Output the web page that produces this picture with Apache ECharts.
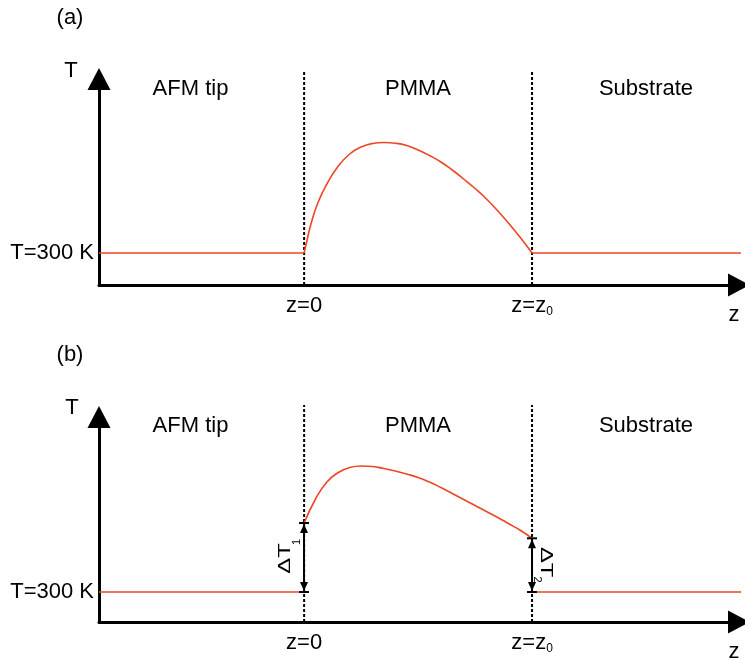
<!DOCTYPE html>
<html>
<head>
<meta charset="utf-8">
<script src="https://cdn.jsdelivr.net/npm/echarts@6/dist/echarts.min.js"></script>
<style>html,body{margin:0;padding:0;background:#fff}#c{width:745px;height:660px}</style>
</head>
<body>
<div id="c"></div>
<script>
// ---- data (z in units of z0, T in K) ----
var zA = [0, 0.01, 0.03, 0.06, 0.1, 0.15, 0.2, 0.25, 0.3, 0.35, 0.4, 0.45, 0.5, 0.55, 0.6, 0.65, 0.7, 0.75, 0.8, 0.85, 0.9, 0.95, 1.0];
var TA = [300, 310, 329, 350, 369, 387, 399, 406, 409.5, 410.5, 409.8, 407.5, 403, 397.5, 391, 383, 374, 364.5, 354, 342, 329, 315, 300];
var zB = [0, 0.05, 0.1, 0.15, 0.2, 0.25, 0.3, 0.35, 0.4, 0.45, 0.5, 0.55, 0.6, 0.65, 0.7, 0.75, 0.8, 0.85, 0.9, 0.95, 1.0];
var TB = [369, 393, 410, 419.5, 424.5, 426, 425.5, 423.5, 421, 418, 414.5, 410, 404.5, 398.5, 392.5, 386.5, 380.5, 374.5, 368, 361.5, 353.7];
var T0 = 300;
var zLeft = -0.9, zRight = 1.934;
var interfaces = [0, 1];
var regionLabels = ['AFM tip', 'PMMA', 'Substrate'];
var jumps = [[0, 300, 369, 1], [1, 300, 353.7, 2]];

var RED = '#ef4526';
var FONT = '"Liberation Sans", Arial, sans-serif';

function pairs(xs, ys) { return xs.map(function (x, i) { return [x, ys[i]]; }); }

var chart = echarts.init(document.getElementById('c'));

function xAxisCfg(gi) {
  return {
    type: 'value', gridIndex: gi, min: -0.9, max: 1.908,
    axisLine: { show: true, onZero: false, lineStyle: { color: '#000', width: 3 }, symbol: ['none', 'triangle'], symbolSize: [23, 22] },
    axisTick: { show: false }, splitLine: { show: false },
    axisLabel: {
      show: true, customValues: interfaces, margin: 9, color: '#000',
      fontFamily: FONT, fontSize: 22,
      formatter: function (v) { return v === 0 ? '{m|z=0}' : '{m|z=z}{s|0}'; },
      rich: {
        m: { fontSize: 22, fontFamily: FONT, color: '#000', lineHeight: 24 },
        s: { fontSize: 12, fontFamily: FONT, color: '#000', verticalAlign: 'bottom', lineHeight: 24 }
      }
    }
  };
}
function yAxisCfg(gi, mn, mx) {
  return {
    type: 'value', gridIndex: gi, min: mn, max: mx,
    axisLine: { show: true, onZero: false, lineStyle: { color: '#000', width: 3 }, symbol: ['none', 'triangle'], symbolSize: [23, 22] },
    axisTick: { show: false }, splitLine: { show: false },
    axisLabel: { show: true, customValues: [T0], margin: 5, color: '#000', fontFamily: FONT, fontSize: 22,
      formatter: function () { return 'T=300 K'; } }
  };
}

function lineSeries(gi, data, extra) {
  var s = {
    type: 'line', xAxisIndex: gi, yAxisIndex: gi, data: data, showSymbol: false, symbol: 'none',
    lineStyle: { color: RED, width: 1.6 }, clip: false, silent: true, animation: false, z: 3
  };
  for (var k in extra) s[k] = extra[k];
  return s;
}
function dashSeries(gi, z, lo, hi) {
  return {
    type: 'line', xAxisIndex: gi, yAxisIndex: gi, data: [[z, lo], [z, hi]], showSymbol: false, symbol: 'none',
    lineStyle: { color: '#000', width: 2, type: [3, 2] }, clip: false, silent: true, animation: false, z: 2
  };
}

var series = [
  lineSeries(0, [[zLeft, T0], [0, T0]]),
  lineSeries(0, [[1, T0], [zRight, T0]]),
  lineSeries(0, pairs(zA, TA), { smooth: 0.5 }),
  dashSeries(0, interfaces[0], 268, 483),
  dashSeries(0, interfaces[1], 268, 483),
  lineSeries(1, [[zLeft, T0], [0, T0]]),
  lineSeries(1, [[1, T0], [zRight, T0]]),
  lineSeries(1, pairs(zB, TB), { smooth: 0.5 }),
  dashSeries(1, interfaces[0], 270, 487),
  dashSeries(1, interfaces[1], 270, 487),
  {
    type: 'custom', xAxisIndex: 1, yAxisIndex: 1, data: jumps, clip: false, silent: true, animation: false, z: 5,
    renderItem: function (params, api) {
      var z = api.value(0), lo = api.value(1), hi = api.value(2), idx = api.value(3);
      var pLo = api.coord([z, lo]), pHi = api.coord([z, hi]);
      var x = Math.round(pLo[0]), yT = pHi[1], yB = pLo[1];
      var midY = (yT + yB) / 2;
      var k = { stroke: '#000', lineWidth: 2 };
      var ch = [
        { type: 'line', shape: { x1: x, y1: yT + 6, x2: x, y2: yB - 6 }, style: k },
        { type: 'polygon', shape: { points: [[x, yT + 1], [x - 4, yT + 10], [x + 4, yT + 10]] }, style: { fill: '#000' } },
        { type: 'polygon', shape: { points: [[x, yB - 1], [x - 4, yB - 10], [x + 4, yB - 10]] }, style: { fill: '#000' } },
        { type: 'line', shape: { x1: x - 5, y1: yT, x2: x + 5, y2: yT }, style: k },
        { type: 'line', shape: { x1: x - 5, y1: yB, x2: x + 5, y2: yB }, style: k }
      ];
      var left = idx === 1;
      var rot = left ? Math.PI / 2 : -Math.PI / 2;
      ch.push({
        type: 'text', x: left ? x - 18.5 : x + 13.5, y: left ? midY + 1 : midY - 3, rotation: rot, scaleX: 1.4, scaleY: 1,
        style: { text: '\u0394T', fontSize: 17, fontFamily: FONT, fill: '#000', align: 'center', verticalAlign: 'middle' }
      });
      ch.push({
        type: 'text', x: left ? x - 7 : x + 5.5, y: left ? midY - 15.5 : midY + 14.5, rotation: rot,
        style: { text: String(idx), fontSize: 11, fontFamily: FONT, fill: '#000', align: 'center', verticalAlign: 'middle' }
      });
      return { type: 'group', children: ch };
    }
  }
];

function txt(x, y, s) {
  return { type: 'text', x: x, y: y, silent: true,
    style: { text: s, fontSize: 22, fontFamily: FONT, fill: '#000', align: 'center', verticalAlign: 'middle' } };
}
var graphic = [
  txt(70, 18, '(a)'), txt(70, 355, '(b)'),
  txt(71, 71, 'T'), txt(72, 408, 'T'),
  txt(734, 315, 'z'), txt(734, 652, 'z'),
  txt(190.5, 89, regionLabels[0]), txt(418, 89, regionLabels[1]), txt(646, 89, regionLabels[2]),
  txt(190.5, 426, regionLabels[0]), txt(418, 426, regionLabels[1]), txt(646, 426, regionLabels[2])
];

chart.setOption({
  animation: false,
  backgroundColor: '#fff',
  grid: [
    { left: 99, right: 6, top: 79, height: 206 },
    { left: 99, right: 6, top: 417, height: 205 }
  ],
  xAxis: [xAxisCfg(0), xAxisCfg(1)],
  yAxis: [yAxisCfg(0, 268, 474), yAxisCfg(1, 270, 475)],
  series: series,
  graphic: graphic
});
</script>
</body>
</html>
